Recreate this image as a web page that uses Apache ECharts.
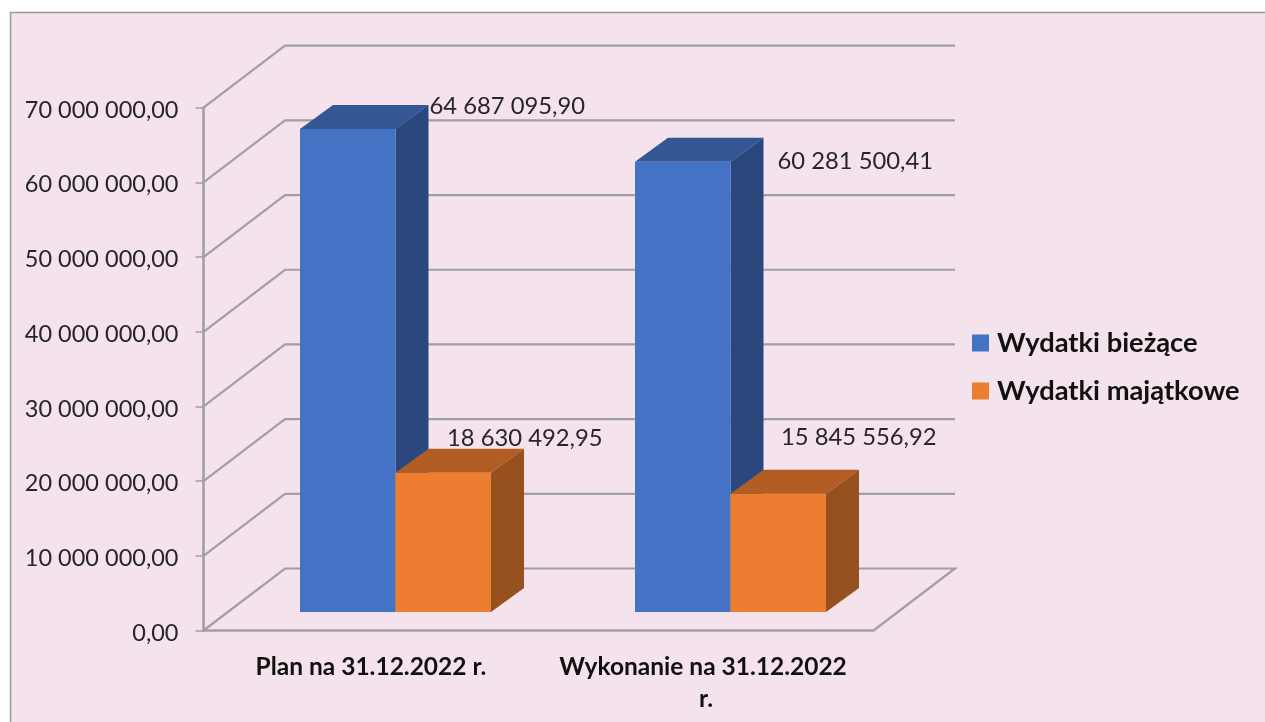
<!DOCTYPE html>
<html>
<head>
<meta charset="utf-8">
<title>Wydatki</title>
<script src="https://cdn.jsdelivr.net/npm/echarts@6/dist/echarts.min.js"></script>
<style>
  html, body { margin: 0; padding: 0; background: #fff; }
  #chart { width: 1265px; height: 722px; }
</style>
</head>
<body>
<div id="chart"></div>
<script>
const categories = ['Plan na 31.12.2022 r.', 'Wykonanie na 31.12.2022 r.'];
const biezace = [64687095.90, 60281500.41];
const majatkowe = [18630492.95, 15845556.92];
const gridValues = [0, 10000000, 20000000, 30000000, 40000000, 50000000, 60000000, 70000000];

// przesuniecia w px, wykres jest plaski wiec "3D" robimy recznie
const wallDx = 81.5, wallDy = -62;
const barDx = 24.5, barDy = -18.5;
const depthDx = 33, depthDy = -24;
const barWidth = 95.5;
const FONT = 'Lato';
const LINE = '#a0a0a0';

// pozycja etykiety wzgledem gornego prawego rogu slupka
const biezaceNudge = [[34, -23], [47, 0]];
const majatkoweNudge = [[-44, -35], [-45, -56]];

function money(v) {
  const parts = v.toFixed(2).split('.');
  return parts[0].replace(/\B(?=(\d{3})+(?!\d))/g, ' ') + ',' + parts[1];
}

function poly(points, fill) {
  return { type: 'polygon', shape: { points: points }, style: { fill: fill } };
}

function renderWall(params, api) {
  const rect = params.coordSys;
  const y = api.coord([0, api.value(0)])[1];
  const x0 = rect.x, x1 = rect.x + rect.width;
  const style = { stroke: LINE, lineWidth: 2.2, fill: 'none' };
  const points = [[x0, y], [x0 + wallDx, y + wallDy], [x1 + wallDx, y + wallDy]];
  if (api.value(0) === 0) points.push([x1, y]);
  return { type: 'polyline', shape: { points: points }, style: style };
}

function barRenderer(side, topColor, sideColor, nudges) {
  return function (params, api) {
    const i = api.value(0);
    const base = api.coord([i, 0]);
    const top = api.coord([i, api.value(1)]);
    const left = base[0] + barDx + (side < 0 ? -barWidth : 0);
    const right = left + barWidth;
    const y0 = base[1] + barDy, y1 = top[1] + barDy;
    const children = [
      poly([[left, y1], [right, y1], [right + depthDx, y1 + depthDy], [left + depthDx, y1 + depthDy]], topColor),
      poly([[right, y0], [right, y1], [right + depthDx, y1 + depthDy], [right + depthDx, y0 + depthDy]], sideColor),
      { type: 'rect', shape: { x: left, y: y1, width: barWidth, height: y0 - y1 }, style: { fill: api.visual('color') } },
      {
        type: 'text',
        style: {
          x: right + nudges[i][0], y: y1 + nudges[i][1],
          text: money(api.value(1)),
          font: '23.8px ' + FONT, fill: '#262626',
          align: 'left', verticalAlign: 'middle'
        }
      }
    ];
    return { type: 'group', children: children };
  };
}

const chart = echarts.init(document.getElementById('chart'));
chart.setOption({
  animation: false,
  backgroundColor: '#fff',
  graphic: [{
    type: 'rect', z: -10, silent: true,
    shape: { x: 10.5, y: 12.5, width: 1270, height: 720 },
    style: { fill: '#f4e3ec', stroke: '#999', lineWidth: 1.5 }
  }],
  grid: { left: 203.5, right: 391.5, top: 107.7, bottom: 91.5 },
  legend: {
    orient: 'vertical', left: 967, top: 324.5,
    itemWidth: 17, itemHeight: 17, itemGap: 21,
    icon: 'rect', selectedMode: false,
    data: ['Wydatki bieżące', 'Wydatki majątkowe'],
    textStyle: { fontFamily: FONT, fontSize: 27.3, fontWeight: 'bold', color: '#111', lineHeight: 17, padding: [0, 0, 0, 3] }
  },
  xAxis: {
    type: 'category', data: categories,
    axisLine: { lineStyle: { color: LINE, width: 2.6 } },
    axisTick: { length: 8, lineStyle: { color: LINE, width: 1.5 } },
    axisLabel: {
      interval: 0, margin: 21, width: 300, overflow: 'break', lineHeight: 32,
      fontFamily: FONT, fontSize: 24.5, fontWeight: 'bold', color: '#111'
    }
  },
  yAxis: {
    type: 'value', min: 0, max: 70000000, interval: 10000000,
    axisLine: { show: true, lineStyle: { color: LINE, width: 2.6 } },
    axisTick: { show: true, length: 8, lineStyle: { color: LINE, width: 1.5 } },
    splitLine: { show: false },
    axisLabel: { margin: 25, verticalAlign: 'top', lineHeight: 5, formatter: money, fontFamily: FONT, fontSize: 23.5, color: '#262626' }
  },
  series: [
    {
      type: 'custom', name: 'walls', silent: true, z: 1,
      renderItem: renderWall, encode: { y: 0 },
      data: gridValues.map(v => [v])
    },
    {
      type: 'custom', name: 'Wydatki bieżące', z: 2,
      itemStyle: { color: '#4472c4' },
      renderItem: barRenderer(-1, '#345694', '#2a477e', biezaceNudge),
      encode: { x: 0, y: 1 },
      data: biezace.map((v, i) => [i, v])
    },
    {
      type: 'custom', name: 'Wydatki majątkowe', z: 3,
      itemStyle: { color: '#ed7d31' },
      renderItem: barRenderer(1, '#b15d24', '#97511e', majatkoweNudge),
      encode: { x: 0, y: 1 },
      data: majatkowe.map((v, i) => [i, v])
    }
  ]
});
</script>
</body>
</html>
